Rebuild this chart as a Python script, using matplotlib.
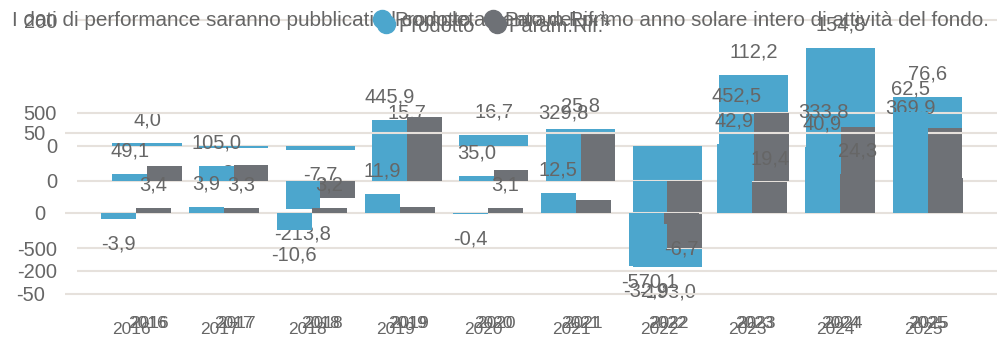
import numpy as np
import matplotlib.pyplot as plt
from matplotlib.lines import Line2D

plt.rcParams['font.family'] = ['Liberation Sans', 'DejaVu Sans']

years = ['2016', '2017', '2018', '2019', '2020', '2021', '2022', '2023', '2024', '2025']

# first panel: product only, axis -200..200
prod_a = [4.0, -3.4, -7.7, 15.7, 16.7, 25.8, -193.0, 112.2, 154.8, 76.6]
# second panel: product and benchmark, axis -500..500
prod_b = [49.1, 105.0, -213.8, 445.9, 35.0, 329.8, -570.1, 452.5, 333.8, 369.9]
rif_b = [107.0, 115.0, -130.0, 470.0, 78.0, 344.0, -500.0, 500.0, 396.0, 389.0]
# third panel: product and benchmark, axis -50..50
prod_c = [-3.9, 3.9, -10.6, 11.9, -0.4, 12.5, -32.9, 42.9, 40.9, 62.5]
rif_c = [3.4, 3.3, 3.2, 3.5, 3.1, 8.0, -6.7, 19.4, 24.3, 22.0]
rif_c_shown = [True, True, True, False, True, False, True, True, True, False]

title = ("I dati di performance saranno pubblicati al completamento del primo "
         "anno solare intero di attività del fondo.")

BLUE = '#4ca6cd'
GREY = '#6e7176'
TXT = '#666666'
GRID = '#e6e1dc'

W, H = 1005, 337
fig = plt.figure(figsize=(W / 100, H / 100), dpi=100)


def pt(px):
    return px * 0.72


def fmt(v):
    return f'{v:.1f}'.replace('.', ',')


def panel(left, right, c0, step, y0, scale, ticks, z):
    ax = fig.add_axes([left / W, 0, (right - left) / W, 1], zorder=z)
    ax.patch.set_alpha(0)
    ax.set_xlim(-(c0 - left) / step, (right - c0) / step)
    ax.set_ylim((y0 - H) / scale, y0 / scale)
    for s in ax.spines.values():
        s.set_visible(False)
    ax.set_yticks(ticks)
    ax.set_yticklabels([str(t) for t in ticks])
    ax.tick_params(axis='y', length=0, pad=pt(20), labelsize=14.5, labelcolor=TXT)
    ax.set_xticks([])
    ax.grid(axis='y', color=GRID, lw=1.5)
    ax.set_axisbelow(True)
    return ax


def labels(ax, xs, vals, shown=None):
    for i, (x, v) in enumerate(zip(xs, vals)):
        if shown is not None and not shown[i]:
            continue
        off = pt(23) if v >= 0 else -pt(25)
        ax.annotate(fmt(v), (x, v), xytext=(0, off), textcoords='offset points',
                    ha='center', va='center', fontsize=14.5, color=TXT)


def year_ticks(ax, xs, ypx):
    for x, y in zip(xs, years):
        ax.text(x, 1 - ypx / H, y, transform=ax.get_xaxis_transform(),
                ha='center', va='center', fontsize=12.5, color=TXT)


idx = np.arange(len(years))

# panel A
ax1 = panel(77, 997, 147, 86.7, 145.5, 0.6275, [-200, 0, 200], 1)
ax1.bar(idx, prod_a, width=0.796, color=BLUE)
labels(ax1, idx, prod_a)
year_ticks(ax1, idx, 323)

# panel B
ax2 = panel(77, 997, 147, 86.7, 180.5, 0.135, [-500, 0, 500], 2)
ax2.bar(idx - 0.2, prod_b, width=0.4, color=BLUE)
ax2.bar(idx + 0.2, rif_b, width=0.4, color=GREY)
labels(ax2, idx - 0.2, prod_b)
year_ticks(ax2, idx + 0.03, 323)

# panel C
ax3 = panel(65, 997, 136, 88.0, 213, 1.61, [-50, 0, 50], 3)
ax3.bar(idx - 0.2, prod_c, width=0.4, color=BLUE)
ax3.bar(idx + 0.2, rif_c, width=0.4, color=GREY)
labels(ax3, idx - 0.2, prod_c)
labels(ax3, idx + 0.2, rif_c, rif_c_shown)
year_ticks(ax3, idx - 0.05, 330)

fig.text(12 / W, 1 - 21 / H, title, ha='left', va='center', fontsize=14.85, color=TXT)

handles = [Line2D([], [], marker='o', ls='', color=BLUE, markersize=13),
           Line2D([], [], marker='o', ls='', color=GREY, markersize=13)]
for dx, dy in [(0, 21), (4, 26)]:
    fig.legend(handles, ['Prodotto', 'Param.Rif.*'], loc='center left',
               bbox_to_anchor=((372 + dx) / W, 1 - dy / H), ncol=2, frameon=False,
               fontsize=14.5, labelcolor=TXT, handletextpad=0.1, columnspacing=0.6,
               borderpad=0, borderaxespad=0, handlelength=1.0)

fig.savefig('out.png', dpi=100)
